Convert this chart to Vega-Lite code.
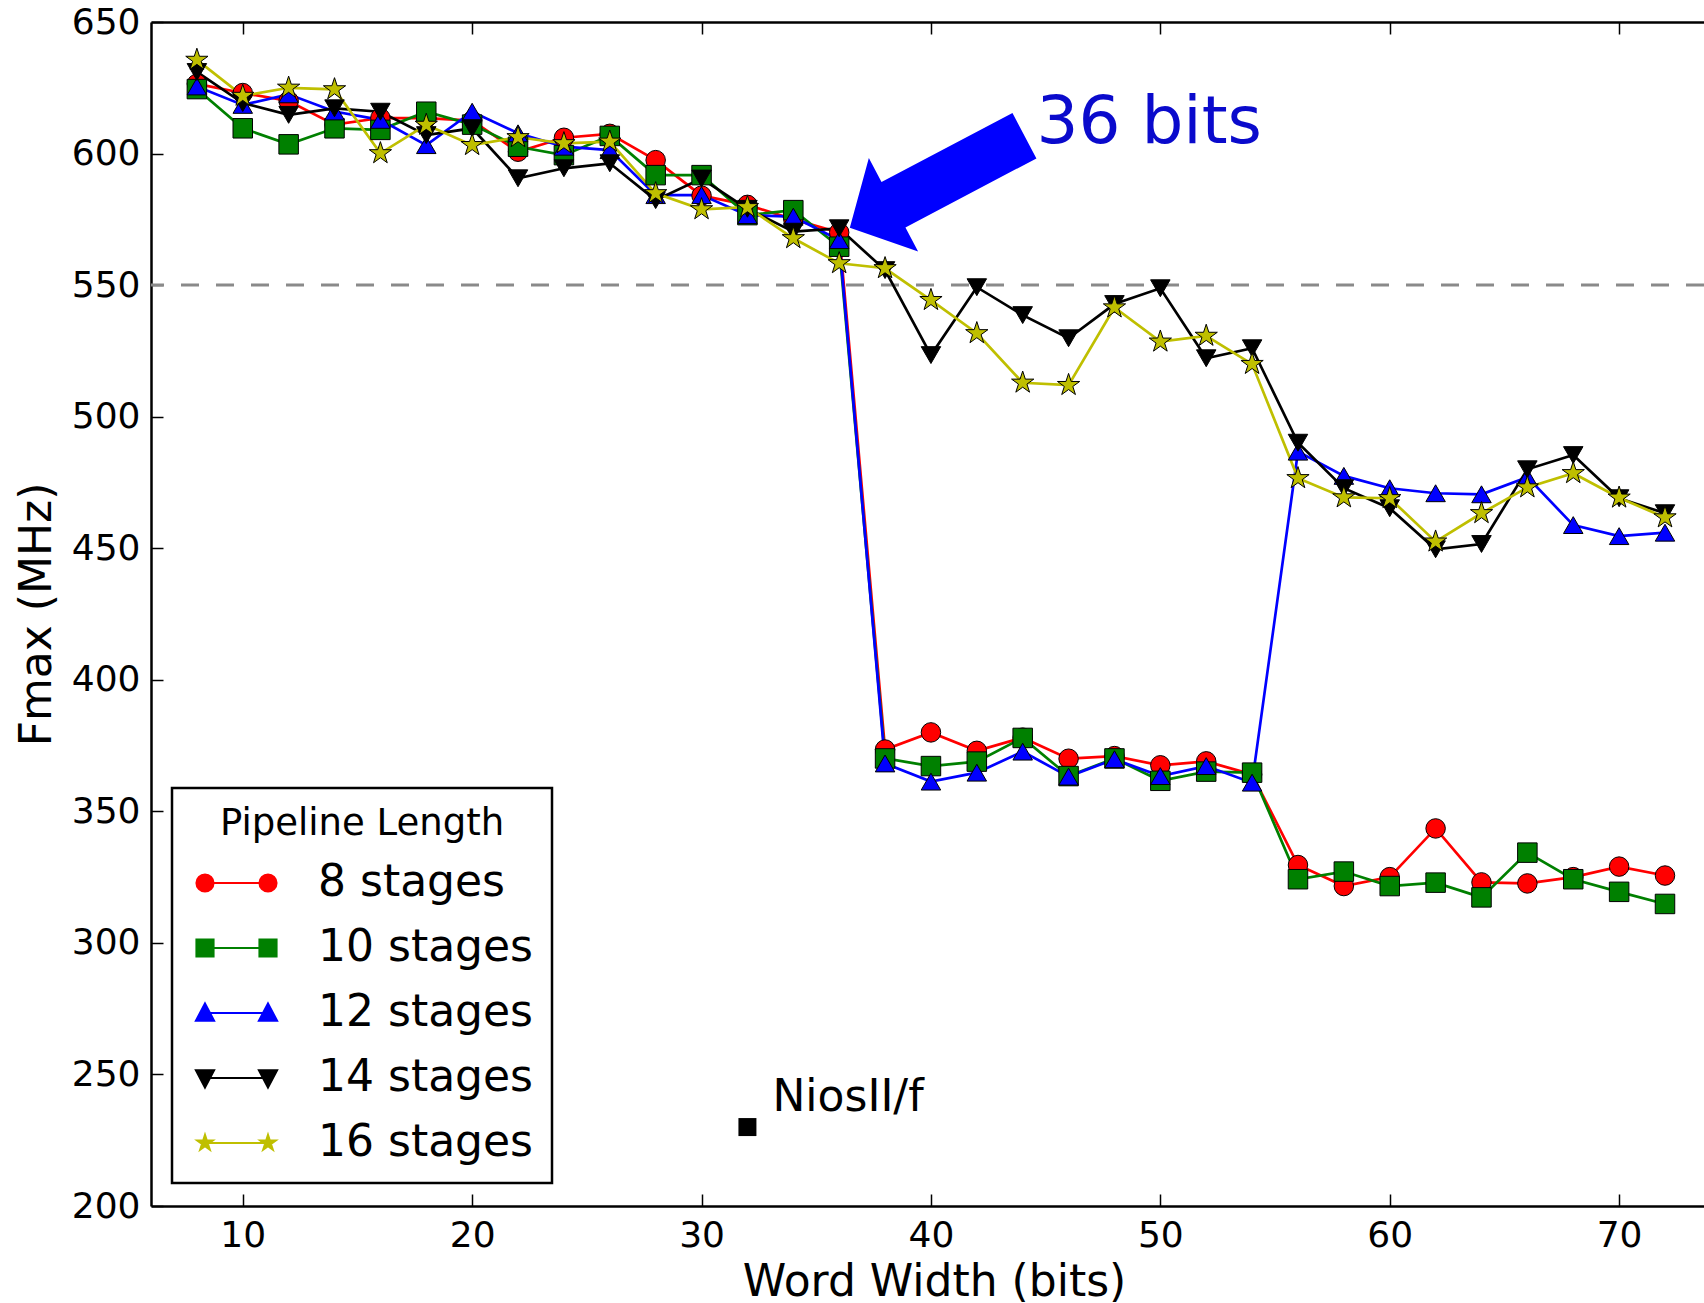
{
  "$schema": "https://vega.github.io/schema/vega-lite/v6.json",
  "width": 1553,
  "height": 1184,
  "autosize": {"type": "none"},
  "padding": {"left": 151, "top": 22, "right": 0, "bottom": 97},
  "background": "white",
  "config": {
    "font": "DejaVu Sans",
    "view": {"stroke": null},
    "axis": {
      "domainColor": "black", "domainWidth": 2.5,
      "tickColor": "black", "tickWidth": 1.5, "tickSize": -12,
      "labelColor": "black", "labelFontSize": 36,
      "titleColor": "black", "titleFontSize": 44, "titleFontWeight": "normal",
      "grid": false, "labelFlush": false, "labelOverlap": false, "labelBound": false
    }
  },
  "datasets": {
    "fmax": [
      {"w":8,"f":626.5,"s":"8 stages"},{"w":10,"f":623,"s":"8 stages"},{"w":12,"f":620,"s":"8 stages"},{"w":14,"f":611,"s":"8 stages"},{"w":16,"f":613.5,"s":"8 stages"},{"w":18,"f":613.5,"s":"8 stages"},{"w":20,"f":612.5,"s":"8 stages"},{"w":22,"f":600.7,"s":"8 stages"},{"w":24,"f":606,"s":"8 stages"},{"w":26,"f":607.5,"s":"8 stages"},{"w":28,"f":597.5,"s":"8 stages"},{"w":30,"f":584,"s":"8 stages"},{"w":32,"f":580.5,"s":"8 stages"},{"w":34,"f":575,"s":"8 stages"},{"w":36,"f":570,"s":"8 stages"},{"w":38,"f":373.5,"s":"8 stages"},{"w":40,"f":380,"s":"8 stages"},{"w":42,"f":373,"s":"8 stages"},{"w":44,"f":378,"s":"8 stages"},{"w":46,"f":370,"s":"8 stages"},{"w":48,"f":371,"s":"8 stages"},{"w":50,"f":367.5,"s":"8 stages"},{"w":52,"f":369,"s":"8 stages"},{"w":54,"f":364,"s":"8 stages"},{"w":56,"f":329.6,"s":"8 stages"},{"w":58,"f":321.6,"s":"8 stages"},{"w":60,"f":325,"s":"8 stages"},{"w":62,"f":343.5,"s":"8 stages"},{"w":64,"f":323,"s":"8 stages"},{"w":66,"f":322.6,"s":"8 stages"},{"w":68,"f":325,"s":"8 stages"},{"w":70,"f":329,"s":"8 stages"},{"w":72,"f":325.6,"s":"8 stages"},
      {"w":8,"f":624.5,"s":"10 stages"},{"w":10,"f":609.6,"s":"10 stages"},{"w":12,"f":603.5,"s":"10 stages"},{"w":14,"f":609.6,"s":"10 stages"},{"w":16,"f":609,"s":"10 stages"},{"w":18,"f":615.9,"s":"10 stages"},{"w":20,"f":611,"s":"10 stages"},{"w":22,"f":602.6,"s":"10 stages"},{"w":24,"f":599.4,"s":"10 stages"},{"w":26,"f":606.7,"s":"10 stages"},{"w":28,"f":591.8,"s":"10 stages"},{"w":30,"f":591.8,"s":"10 stages"},{"w":32,"f":576.6,"s":"10 stages"},{"w":34,"f":578.5,"s":"10 stages"},{"w":36,"f":564.6,"s":"10 stages"},{"w":38,"f":370.1,"s":"10 stages"},{"w":40,"f":367.2,"s":"10 stages"},{"w":42,"f":368.9,"s":"10 stages"},{"w":44,"f":377.9,"s":"10 stages"},{"w":46,"f":363.4,"s":"10 stages"},{"w":48,"f":370.1,"s":"10 stages"},{"w":50,"f":361.6,"s":"10 stages"},{"w":52,"f":365.1,"s":"10 stages"},{"w":54,"f":364.7,"s":"10 stages"},{"w":56,"f":324.2,"s":"10 stages"},{"w":58,"f":327.1,"s":"10 stages"},{"w":60,"f":321.6,"s":"10 stages"},{"w":62,"f":322.9,"s":"10 stages"},{"w":64,"f":317.3,"s":"10 stages"},{"w":66,"f":334.3,"s":"10 stages"},{"w":68,"f":324.2,"s":"10 stages"},{"w":70,"f":319.4,"s":"10 stages"},{"w":72,"f":314.8,"s":"10 stages"},
      {"w":8,"f":625.5,"s":"12 stages"},{"w":10,"f":618.5,"s":"12 stages"},{"w":12,"f":622.5,"s":"12 stages"},{"w":14,"f":616,"s":"12 stages"},{"w":16,"f":612.8,"s":"12 stages"},{"w":18,"f":603.2,"s":"12 stages"},{"w":20,"f":615.9,"s":"12 stages"},{"w":22,"f":607.7,"s":"12 stages"},{"w":24,"f":602.6,"s":"12 stages"},{"w":26,"f":601.3,"s":"12 stages"},{"w":28,"f":584.2,"s":"12 stages"},{"w":30,"f":584.2,"s":"12 stages"},{"w":32,"f":576.6,"s":"12 stages"},{"w":34,"f":576,"s":"12 stages"},{"w":36,"f":567.1,"s":"12 stages"},{"w":38,"f":368.2,"s":"12 stages"},{"w":40,"f":361.3,"s":"12 stages"},{"w":42,"f":364.7,"s":"12 stages"},{"w":44,"f":372.7,"s":"12 stages"},{"w":46,"f":363.2,"s":"12 stages"},{"w":48,"f":369.8,"s":"12 stages"},{"w":50,"f":363.4,"s":"12 stages"},{"w":52,"f":367.2,"s":"12 stages"},{"w":54,"f":360.9,"s":"12 stages"},{"w":56,"f":486.7,"s":"12 stages"},{"w":58,"f":477.5,"s":"12 stages"},{"w":60,"f":472.8,"s":"12 stages"},{"w":62,"f":470.9,"s":"12 stages"},{"w":64,"f":470.5,"s":"12 stages"},{"w":66,"f":477,"s":"12 stages"},{"w":68,"f":458.8,"s":"12 stages"},{"w":70,"f":454.6,"s":"12 stages"},{"w":72,"f":455.9,"s":"12 stages"},
      {"w":8,"f":631,"s":"14 stages"},{"w":10,"f":619.2,"s":"14 stages"},{"w":12,"f":614.7,"s":"14 stages"},{"w":14,"f":617.2,"s":"14 stages"},{"w":16,"f":615.9,"s":"14 stages"},{"w":18,"f":607,"s":"14 stages"},{"w":20,"f":609.6,"s":"14 stages"},{"w":22,"f":590.6,"s":"14 stages"},{"w":24,"f":594.4,"s":"14 stages"},{"w":26,"f":596.3,"s":"14 stages"},{"w":28,"f":582.3,"s":"14 stages"},{"w":30,"f":590.5,"s":"14 stages"},{"w":32,"f":579,"s":"14 stages"},{"w":34,"f":570.3,"s":"14 stages"},{"w":36,"f":571.6,"s":"14 stages"},{"w":38,"f":555.7,"s":"14 stages"},{"w":40,"f":523.4,"s":"14 stages"},{"w":42,"f":549.2,"s":"14 stages"},{"w":44,"f":538.6,"s":"14 stages"},{"w":46,"f":529.8,"s":"14 stages"},{"w":48,"f":542.8,"s":"14 stages"},{"w":50,"f":548.8,"s":"14 stages"},{"w":52,"f":522.2,"s":"14 stages"},{"w":54,"f":526,"s":"14 stages"},{"w":56,"f":490.1,"s":"14 stages"},{"w":58,"f":472.8,"s":"14 stages"},{"w":60,"f":465.2,"s":"14 stages"},{"w":62,"f":449.6,"s":"14 stages"},{"w":64,"f":451.6,"s":"14 stages"},{"w":66,"f":480,"s":"14 stages"},{"w":68,"f":485.4,"s":"14 stages"},{"w":70,"f":469,"s":"14 stages"},{"w":72,"f":463.3,"s":"14 stages"},
      {"w":8,"f":635.6,"s":"16 stages"},{"w":10,"f":621.9,"s":"16 stages"},{"w":12,"f":625,"s":"16 stages"},{"w":14,"f":624.4,"s":"16 stages"},{"w":16,"f":600.1,"s":"16 stages"},{"w":18,"f":610.9,"s":"16 stages"},{"w":20,"f":603.2,"s":"16 stages"},{"w":22,"f":606.2,"s":"16 stages"},{"w":24,"f":603.9,"s":"16 stages"},{"w":26,"f":604.5,"s":"16 stages"},{"w":28,"f":584.9,"s":"16 stages"},{"w":30,"f":578.8,"s":"16 stages"},{"w":32,"f":579.6,"s":"16 stages"},{"w":34,"f":567.8,"s":"16 stages"},{"w":36,"f":558.3,"s":"16 stages"},{"w":38,"f":556.4,"s":"16 stages"},{"w":40,"f":544.3,"s":"16 stages"},{"w":42,"f":531.7,"s":"16 stages"},{"w":44,"f":512.9,"s":"16 stages"},{"w":46,"f":512,"s":"16 stages"},{"w":48,"f":541.5,"s":"16 stages"},{"w":50,"f":528.5,"s":"16 stages"},{"w":52,"f":530.7,"s":"16 stages"},{"w":54,"f":520,"s":"16 stages"},{"w":56,"f":476.6,"s":"16 stages"},{"w":58,"f":469.3,"s":"16 stages"},{"w":60,"f":469,"s":"16 stages"},{"w":62,"f":452.5,"s":"16 stages"},{"w":64,"f":463.3,"s":"16 stages"},{"w":66,"f":473.1,"s":"16 stages"},{"w":68,"f":478.5,"s":"16 stages"},{"w":70,"f":469.2,"s":"16 stages"},{"w":72,"f":461.7,"s":"16 stages"}
    ],
    "nios": [{"w": 32, "f": 230, "label": "NiosII/f"}],
    "note": [{"w": 44.6, "f": 604, "label": "36 bits"}],
    "arrow": [{"w": 40.27, "f": 589.3}]
  },
  "resolve": {"scale": {"x": "independent"}, "axis": {"x": "independent"}},
  "layer": [
    {
      "layer": [
        {
          "data": {"name": "nios"},
          "mark": {"type": "rule", "stroke": "#8a8a8a", "strokeWidth": 3, "strokeDash": [18, 17]},
          "encoding": {"y": {"datum": 550, "type": "quantitative"}}
        },
        {
          "data": {"name": "fmax"},
          "mark": {"type": "line", "strokeWidth": 2.7},
          "encoding": {
            "x": {"field": "w", "type": "quantitative",
                  "scale": {"domain": [6, 73.7], "nice": false, "zero": false},
                  "axis": {"orient": "bottom", "values": [10, 20, 30, 40, 50, 60, 70], "title": "Word Width (bits)",
                           "labelPadding": 24, "titleX": 783, "titleY": 89, "titleBaseline": "alphabetic"}},
            "y": {"field": "f", "type": "quantitative",
                  "scale": {"domain": [200, 650], "nice": false, "zero": false},
                  "axis": {"values": [200, 250, 300, 350, 400, 450, 500, 550, 600, 650], "title": "Fmax (MHz)",
                           "labelPadding": 23, "titleX": -101, "titleBaseline": "alphabetic"}},
            "color": {"field": "s", "type": "nominal",
                      "scale": {"domain": ["8 stages", "10 stages", "12 stages", "14 stages", "16 stages"],
                                "range": ["#ff0000", "#008000", "#0000ff", "#000000", "#bfbf00"]},
                      "legend": {
                        "orient": "none", "legendX": 21, "legendY": 766,
                        "title": "Pipeline Length", "titleFontSize": 37, "titleFontWeight": "normal", "titleColor": "black",
                        "titleAnchor": "middle", "titlePadding": 17, "titleLimit": 1000,
                        "labelFontSize": 44, "labelColor": "black", "labelOffset": 82, "labelLimit": 1000,
                        "symbolSize": 1936, "rowPadding": 20, "padding": 18,
                        "strokeColor": "black", "fillColor": "white",
                        "encode": {
                          "legend": {"update": {"strokeWidth": {"value": 2.5}}},
                          "symbols": {"update": {
                            "shape": {"signal": "datum.value === '8 stages' ? 'M -0.364 0 L 2.5 0 M -0.754 0 A 0.39 0.39 0 1 0 0.026 0 A 0.39 0.39 0 1 0 -0.754 0 Z M 2.11 0 A 0.39 0.39 0 1 0 2.89 0 A 0.39 0.39 0 1 0 2.11 0 Z' : datum.value === '10 stages' ? 'M -0.364 0 L 2.5 0 M -0.754 -0.39 L 0.026 -0.39 L 0.026 0.39 L -0.754 0.39 Z M 2.11 -0.39 L 2.89 -0.39 L 2.89 0.39 L 2.11 0.39 Z' : datum.value === '12 stages' ? 'M -0.364 0 L 2.5 0 M -0.364 -0.436 L 0.05 0.352 L -0.778 0.352 Z M 2.5 -0.436 L 2.914 0.352 L 2.086 0.352 Z' : datum.value === '14 stages' ? 'M -0.364 0 L 2.5 0 M -0.364 0.436 L 0.05 -0.352 L -0.778 -0.352 Z M 2.5 0.436 L 2.914 -0.352 L 2.086 -0.352 Z' : 'M -0.364 0 L 2.5 0 M -0.364 -0.373 L -0.28 -0.116 L -0.009 -0.115 L -0.228 0.044 L -0.145 0.302 L -0.364 0.143 L -0.583 0.302 L -0.5 0.044 L -0.719 -0.115 L -0.448 -0.116 Z M 2.5 -0.373 L 2.584 -0.116 L 2.855 -0.115 L 2.636 0.044 L 2.719 0.302 L 2.5 0.143 L 2.281 0.302 L 2.364 0.044 L 2.145 -0.115 L 2.416 -0.116 Z'"},
                            "fill": {"signal": "datum.value === '8 stages' ? '#ff0000' : datum.value === '10 stages' ? '#008000' : datum.value === '12 stages' ? '#0000ff' : datum.value === '14 stages' ? '#000000' : '#bfbf00'"},
                            "stroke": {"signal": "datum.value === '8 stages' ? '#ff0000' : datum.value === '10 stages' ? '#008000' : datum.value === '12 stages' ? '#0000ff' : datum.value === '14 stages' ? '#000000' : '#bfbf00'"},
                            "strokeWidth": {"value": 2},
                            "opacity": {"value": 1},
                            "fillOpacity": {"value": 1}
                          }}
                        }
                      }}
          }
        },
        {
          "data": {"name": "fmax"},
          "mark": {"type": "point", "filled": true, "stroke": "black", "strokeWidth": 1, "opacity": 1, "size": 380},
          "encoding": {
            "x": {"field": "w", "type": "quantitative"},
            "y": {"field": "f", "type": "quantitative"},
            "color": {"field": "s", "type": "nominal", "legend": null},
            "shape": {"field": "s", "type": "nominal", "legend": null,
                      "scale": {"domain": ["10 stages", "12 stages", "14 stages", "16 stages", "8 stages"],
                                "range": ["square", "triangle-up", "triangle-down",
                                          "M 0 -1.2 L 0.2694 -0.3708 L 1.1413 -0.3708 L 0.436 0.1416 L 0.7053 0.9708 L 0 0.4584 L -0.7053 0.9708 L -0.436 0.1416 L -1.1413 -0.3708 L -0.2694 -0.3708 Z", "circle"]}}
          }
        },
        {
          "data": {"name": "nios"},
          "mark": {"type": "point", "shape": "square", "filled": true, "color": "black", "opacity": 1, "size": 324},
          "encoding": {
            "x": {"field": "w", "type": "quantitative"},
            "y": {"field": "f", "type": "quantitative"}
          }
        },
        {
          "data": {"name": "nios"},
          "mark": {"type": "text", "align": "left", "baseline": "alphabetic", "fontSize": 44, "color": "black", "dx": 25, "dy": -16},
          "encoding": {
            "x": {"field": "w", "type": "quantitative"},
            "y": {"field": "f", "type": "quantitative"},
            "text": {"field": "label"}
          }
        },
        {
          "data": {"name": "arrow"},
          "mark": {"type": "point", "shape": "M -1 0 L -0.5 -0.535 L -0.5 -0.26 L 1 -0.26 L 1 0.26 L -0.5 0.26 L -0.5 0.535 Z",
                   "size": 38967, "angle": 332.2, "filled": true, "fill": "#0000ff", "strokeWidth": 0, "opacity": 1},
          "encoding": {
            "x": {"field": "w", "type": "quantitative"},
            "y": {"field": "f", "type": "quantitative"}
          }
        },
        {
          "data": {"name": "note"},
          "mark": {"type": "text", "align": "left", "baseline": "alphabetic", "fontSize": 66, "color": "#0a0acc"},
          "encoding": {
            "x": {"field": "w", "type": "quantitative"},
            "y": {"field": "f", "type": "quantitative"},
            "text": {"field": "label"}
          }
        }
      ]
    },
    {
      "data": {"name": "nios"},
      "mark": {"type": "point", "opacity": 0},
      "encoding": {
        "x": {"field": "w", "type": "quantitative",
              "scale": {"domain": [6, 73.7], "nice": false, "zero": false},
              "axis": {"orient": "top", "values": [10, 20, 30, 40, 50, 60, 70], "labels": false, "title": null}},
        "y": {"field": "f", "type": "quantitative"}
      }
    }
  ]
}
